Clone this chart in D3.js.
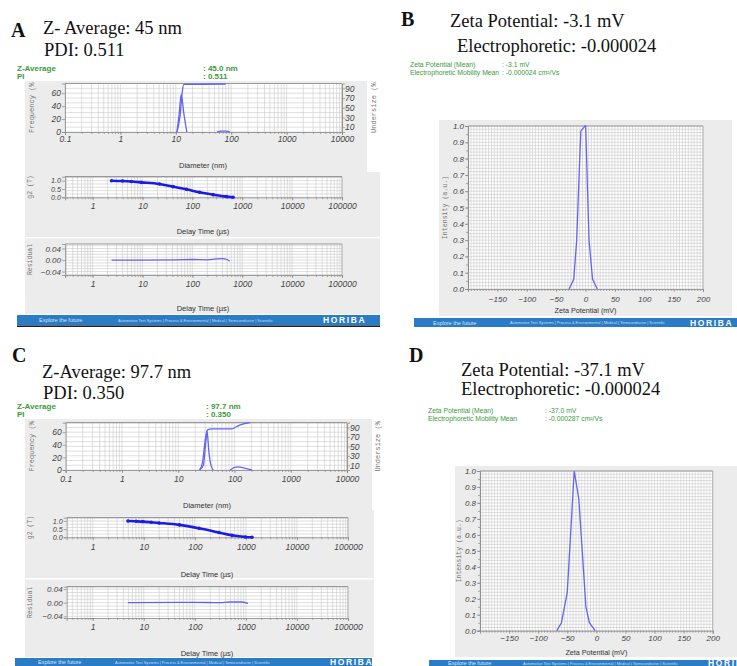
<!DOCTYPE html>
<html>
<head>
<meta charset="utf-8">
<script src="https://cdn.jsdelivr.net/npm/d3@7"></script>
<style>
  body { margin: 0; background: #fff; }
  svg { display: block; }
</style>
</head>
<body>
<svg id="fig" width="737" height="666"></svg>
<script>
// ---------- data ----------

// panel A : size distribution
var sizeFreqA = [10.5, 11.5, 12.5, 14, 15.8];
var freqA     = [0, 28, 58, 28, 0];
var sizeBumpA = [55, 65, 80, 95];
var bumpA     = [0, 1.5, 1.5, 0];
var sizeUnderA = [10.5, 12, 13, 14, 80];
var underA     = [0, 35, 80, 98, 99];
// panel A : correlation function and residual
var tauA = [2.4, 4, 6, 9.5, 22, 41, 76, 140, 260, 480, 655];
var g2A  = [1.0, 0.98, 0.95, 0.9, 0.8, 0.64, 0.48, 0.3, 0.16, 0.04, 0.0];
var tauResA = [2.4, 10, 50, 100, 200, 300, 400, 500, 560];
var resA    = [0, 0, 0.001, 0.002, 0.001, 0.004, 0.005, 0.002, -0.004];

// panel C : size distribution
var sizeFreqC = [24, 27, 30, 32.5, 35, 38, 42];
var freqC     = [0, 12, 45, 62, 30, 8, 0];
var sizeBumpC = [84, 100, 117, 150, 204];
var bumpC     = [0, 4, 5, 3, 0];
var sizeUnderC = [24, 28, 31, 33, 40, 90, 110, 140, 190];
var underC     = [0, 10, 60, 85, 87, 87, 92, 97, 100];
// panel C : correlation function and residual
var tauC = [4.9, 7.1, 9.6, 14, 20, 50, 121, 297, 536, 980, 1320];
var g2C  = [1.0, 0.98, 0.96, 0.92, 0.88, 0.76, 0.55, 0.29, 0.12, 0.02, 0.0];
var tauResC = [4.9, 50, 100, 300, 500, 800, 1100];
var resC    = [0, 0.001, 0.001, 0, 0.002, 0.002, -0.002];

// panel B / D : zeta potential distributions
var zetaB = [-28, -20, -15, -8, -3, -1, 0.3, 6, 12, 20];
var intB  = [0, 0.06, 0.3, 0.97, 0.99, 1.0, 1.0, 0.3, 0.06, 0];
var zetaD = [-68, -60, -50, -38, -30, -18, -12, -2];
var intD  = [0, 0.05, 0.24, 1.0, 0.82, 0.15, 0.05, 0];

// tick labels
var sizeTicks  = [0.1, 1, 10, 100, 1000, 10000];
var delayTicks = [1, 10, 100, 1000, 10000, 100000];
var freqTicks  = [0, 20, 40, 60];
var underTicks = [10, 30, 50, 70, 90];
var g2Ticks    = [0, 0.5, 1];
var resTicks   = [-0.04, 0, 0.04];
var zetaTicks  = [-150, -100, -50, 0, 50, 100, 150, 200];
var intTicks   = [0, 0.1, 0.2, 0.3, 0.4, 0.5, 0.6, 0.7, 0.8, 0.9, 1.0];

// ---------- styles ----------
var serif = '"Liberation Serif", "Times New Roman", serif';
var sans  = '"Liberation Sans", Arial, sans-serif';
var mono  = '"Liberation Mono", "DejaVu Sans Mono", monospace';
var panelBg = '#ececec', gridC = '#c9c9c9', axC = '#8a8a8a';
var curveC = '#6464f2', dotC = '#1c1ce0', green = '#3c9a3c', barC = '#2b7cc6';

var svg = d3.select('#fig');

function label(g, x, y, s, o) {
  o = o || {};
  var t = g.append('text').attr('x', x).attr('y', y).text(s)
    .style('font-family', o.font || sans)
    .style('font-size', (o.size || 8) + 'px')
    .attr('fill', o.fill || '#333');
  if (o.anchor) t.attr('text-anchor', o.anchor);
  if (o.weight) t.style('font-weight', o.weight);
  if (o.italic) t.style('font-style', 'italic');
  if (o.spacing) t.style('letter-spacing', o.spacing + 'px');
  if (o.rotate) t.attr('transform', 'rotate(' + o.rotate + ',' + x + ',' + y + ')');
  return t;
}

function box(g, xs, ys, xGrid, yGrid) {
  var xr = xs.range(), yr = ys.range();
  g.append('rect').attr('x', xr[0]).attr('y', yr[1])
    .attr('width', xr[1] - xr[0]).attr('height', yr[0] - yr[1]).attr('fill', '#fff');
  g.append('g').selectAll('line').data(xGrid).join('line')
    .attr('x1', function(d){ return xs(d); }).attr('x2', function(d){ return xs(d); })
    .attr('y1', yr[1]).attr('y2', yr[0])
    .attr('stroke', gridC).attr('stroke-width', 0.6);
  g.append('g').selectAll('line').data(yGrid).join('line')
    .attr('y1', function(d){ return ys(d); }).attr('y2', function(d){ return ys(d); })
    .attr('x1', xr[0]).attr('x2', xr[1])
    .attr('stroke', gridC).attr('stroke-width', 0.6);
  g.append('line').attr('x1', xr[0]).attr('x2', xr[1]).attr('y1', yr[1]).attr('y2', yr[1])
    .attr('stroke', '#999').attr('stroke-width', 1.2);
  g.append('line').attr('x1', xr[1]).attr('x2', xr[1]).attr('y1', yr[1]).attr('y2', yr[0])
    .attr('stroke', '#aaa').attr('stroke-width', 0.8);
}

function styleAxis(sel, fs) {
  sel.select('.domain').attr('stroke', axC).attr('stroke-width', 0.8);
  sel.selectAll('.tick line').attr('stroke', axC).attr('stroke-width', 0.7);
  sel.selectAll('text').style('font-family', sans).style('font-size', fs + 'px')
    .style('font-style', 'italic').attr('fill', '#444');
}

function bottomAxis(g, xs, y, ticks, labY, fs, fmt, minor) {
  g.append('g').attr('transform', 'translate(0,' + y + ')')
    .call(d3.axisBottom(xs).tickValues(minor).tickSize(2).tickFormat(function(){ return ''; }))
    .call(function(s){ styleAxis(s, fs); s.select('.domain').remove(); });
  g.append('g').attr('transform', 'translate(0,' + y + ')')
    .call(d3.axisBottom(xs).tickValues(ticks).tickSize(3)
      .tickPadding(labY - y - 3 - 0.71 * fs).tickFormat(fmt))
    .call(function(s){ styleAxis(s, fs); });
}

function leftAxis(g, ys, x, ticks, fs, fmt) {
  g.append('g').attr('transform', 'translate(' + x + ',0)')
    .call(d3.axisLeft(ys).tickValues(ticks).tickSize(3).tickPadding(1).tickFormat(fmt))
    .call(function(s){ styleAxis(s, fs); });
}

function rows(xv, yv) { return d3.zip(xv, yv); }

// ---------- DLS panel (A, C) ----------
function dlsPanel(c) {
  var g = svg.append('g');

  // headings
  label(g, c.letterX, c.letterY, c.letter, {font: serif, size: 20, weight: 'bold', fill: '#111'});
  label(g, c.headX, c.head1Y, c.head1, {font: serif, size: 18.5, fill: '#111'});
  label(g, c.headX + 1, c.head2Y, c.head2, {font: serif, size: 18.5, fill: '#111'});
  label(g, 17, c.zY, 'Z-Average', {size: 8, weight: 'bold', fill: green});
  label(g, 17, c.zY + 8, 'PI', {size: 8, weight: 'bold', fill: green});
  label(g, c.valX, c.zY, ':  ' + c.zVal, {size: 8, weight: 'bold', fill: green});
  label(g, c.valX, c.zY + 8, ':  ' + c.pdiVal, {size: 8, weight: 'bold', fill: green});

  // grey panels
  g.append('rect').attr('x', 25).attr('y', c.bgTop).attr('width', c.bgRight1 - 25)
    .attr('height', c.split - c.bgTop).attr('fill', panelBg);
  g.append('rect').attr('x', 25).attr('y', c.split).attr('width', c.bgRight2 - 25)
    .attr('height', c.sep - c.split).attr('fill', panelBg);
  g.append('rect').attr('x', 25).attr('y', c.sep + 1.5).attr('width', c.bgRight2 - 25)
    .attr('height', c.bgBottom - c.sep - 1.5).attr('fill', panelBg);

  // --- frequency / undersize
  var f = c.f;
  var xs = d3.scaleLog().domain([0.1, 10000]).range([f.x0, f.x1]);
  var ysL = d3.scaleLinear().domain([0, 75]).range([f.y1, f.y0]);
  var ysR = d3.scaleLinear().domain([0, 100]).range([f.y1, f.y0]);
  box(g, xs, ysR, xs.ticks(), ysR.ticks(10));
  leftAxis(g, ysL, f.x0, freqTicks, 8.5, d3.format('d'));
  g.append('g').attr('transform', 'translate(' + f.x1 + ',0)')
    .call(d3.axisRight(ysR).tickValues(underTicks).tickSize(3).tickPadding(0))
    .call(function(s){ styleAxis(s, 8.5); });
  bottomAxis(g, xs, f.y1, sizeTicks, f.lab, 8.5, function(d){ return String(d); }, xs.ticks());
  var lineF = d3.line().curve(d3.curveMonotoneX)
    .x(function(d){ return xs(d[0]); }).y(function(d){ return ysL(d[1]); });
  var lineU = d3.line().curve(d3.curveMonotoneX)
    .x(function(d){ return xs(d[0]); }).y(function(d){ return ysR(d[1]); });
  g.append('path').attr('d', lineF(rows(c.sizeF, c.freq))).attr('fill', 'none').attr('stroke', curveC).attr('stroke-width', 1.3);
  g.append('path').attr('d', lineF(rows(c.sizeB, c.bump))).attr('fill', 'none').attr('stroke', curveC).attr('stroke-width', 1.3);
  g.append('path').attr('d', lineU(rows(c.sizeU, c.under))).attr('fill', 'none').attr('stroke', curveC).attr('stroke-width', 1.3);
  label(g, f.titleX, f.title, 'Diameter (nm)', {size: 7.5, anchor: 'middle', fill: '#333'});
  label(g, 34, (f.y0 + f.y1) / 2, 'Frequency (%', {font: mono, size: 7, anchor: 'middle', fill: '#777', rotate: -90});
  label(g, c.rightLabX, (f.y0 + f.y1) / 2, 'Undersize (%', {font: mono, size: 7, anchor: 'middle', fill: '#777', rotate: -90});

  // --- g2
  var q = c.g2;
  var xt = d3.scaleLog().domain([q.dom0, 100000]).range([q.x0, q.x1]);
  var yg = d3.scaleLinear().domain([0, q.top]).range([q.y1, q.y0]);
  box(g, xt, yg, xt.ticks(), yg.ticks(6));
  leftAxis(g, yg, q.x0, g2Ticks, 7.2, d3.format('.1f'));
  bottomAxis(g, xt, q.y1, delayTicks, q.lab, 8.5, function(d){ return String(d); }, xt.ticks());
  var lineG = d3.line().curve(d3.curveMonotoneX)
    .x(function(d){ return xt(d[0]); }).y(function(d){ return yg(d[1]); });
  g.append('path').attr('d', lineG(rows(c.tau, c.g2v))).attr('fill', 'none')
    .attr('stroke', dotC).attr('stroke-width', 2.6);
  g.append('g').selectAll('circle').data(rows(c.tau, c.g2v)).join('circle')
    .attr('cx', function(d){ return xt(d[0]); }).attr('cy', function(d){ return yg(d[1]); })
    .attr('r', 1.8).attr('fill', dotC);
  label(g, f.titleX, q.title, 'Delay Time (\u00b5s)', {size: 7.5, anchor: 'middle', fill: '#333'});
  label(g, 32, (q.y0 + q.y1) / 2, 'g2 (T)', {font: mono, size: 6.5, anchor: 'middle', fill: '#777', rotate: -90});

  // --- residual
  var r = c.r;
  var yr = d3.scaleLinear().domain(r.dom).range([r.y1, r.y0]);
  var xr = xt.copy();
  box(g, xr, yr, xr.ticks(), yr.ticks(10));
  leftAxis(g, yr, q.x0, resTicks, 8, d3.format('.2f'));
  bottomAxis(g, xr, r.y1, delayTicks, r.lab, 8.5, function(d){ return String(d); }, xr.ticks());
  var lineR = d3.line().curve(d3.curveMonotoneX)
    .x(function(d){ return xr(d[0]); }).y(function(d){ return yr(d[1]); });
  g.append('path').attr('d', lineR(rows(c.tauR, c.res))).attr('fill', 'none')
    .attr('stroke', curveC).attr('stroke-width', 1.3);
  label(g, f.titleX, r.title, 'Delay Time (\u00b5s)', {size: 7.5, anchor: 'middle', fill: '#333'});
  label(g, 32, (r.y0 + r.y1) / 2, 'Residual', {font: mono, size: 6.5, anchor: 'middle', fill: '#777', rotate: -90});

  footer(g, c.bar);
}

// ---------- zeta panel (B, D) ----------
function zetaPanel(c) {
  var g = svg.append('g');
  label(g, c.letterX, c.letterY, c.letter, {font: serif, size: 20, weight: 'bold', fill: '#111'});
  label(g, c.head1X, c.head1Y, c.head1, {font: serif, size: 18.5, fill: '#111'});
  label(g, c.head2X, c.head2Y, c.head2, {font: serif, size: 18.5, fill: '#111'});
  label(g, c.gX, c.gY, 'Zeta Potential (Mean)', {size: 6.8, fill: green});
  label(g, c.gX, c.gY + 7.5, 'Electrophoretic Mobility Mean', {size: 6.8, fill: green});
  label(g, c.gValX, c.gY, ':  ' + c.zeta, {size: 6.8, fill: green});
  label(g, c.gValX, c.gY + 7.5, ':  ' + c.mob, {size: 6.8, fill: green});

  g.append('rect').attr('x', c.bg[0]).attr('y', c.bg[1]).attr('width', c.bg[2] - c.bg[0])
    .attr('height', c.bg[3] - c.bg[1]).attr('fill', panelBg);

  var xs = d3.scaleLinear().domain([-200, 200]).range([c.x0, c.x1]);
  var ys = d3.scaleLinear().domain([0, 1]).range([c.y1, c.y0]);
  box(g, xs, ys, xs.ticks(80), ys.ticks(40));
  g.append('g').attr('transform', 'translate(' + c.x0 + ',0)')
    .call(d3.axisLeft(ys).tickValues(ys.ticks(20)).tickSize(2).tickFormat(function(){ return ''; }))
    .call(function(s){ styleAxis(s, 8); });
  leftAxis(g, ys, c.x0, intTicks, 8, d3.format('.1f'));
  bottomAxis(g, xs, c.y1, zetaTicks, c.lab, 8, d3.format('d'), xs.ticks(80));
  var line = d3.line().x(function(d){ return xs(d[0]); }).y(function(d){ return ys(d[1]); });
  g.append('path').attr('d', line(rows(c.zx, c.zy))).attr('fill', 'none')
    .attr('stroke', curveC).attr('stroke-width', 1.3);
  label(g, (c.x0 + c.x1) / 2, c.title, 'Zeta Potential (mV)', {size: 7.2, anchor: 'middle', fill: '#333'});
  label(g, c.yLabX, (c.y0 + c.y1) / 2, 'Intensity (a.u.)', {font: mono, size: 6.6, anchor: 'middle', fill: '#777', rotate: -90});

  footer(g, c.bar);
}

// ---------- HORIBA footer strip ----------
function footer(g, b) {
  g.append('rect').attr('x', b.x0).attr('y', b.y0).attr('width', b.x1 - b.x0)
    .attr('height', b.y1 - b.y0).attr('fill', barC);
  if (b.shadow) {
    g.append('rect').attr('x', b.x0).attr('y', b.y1).attr('width', b.x1 - b.x0)
      .attr('height', 1.5).attr('fill', '#222');
  }
  var mid = (b.y0 + b.y1) / 2;
  label(g, b.x0 + b.e, mid + 2, 'Explore the future', {size: 5.5, fill: '#d6e6f6'});
  label(g, b.x0 + b.m, mid + 1.5, 'Automotive Test Systems  |  Process & Environmental  |  Medical  |  Semiconductor  |  Scientific',
    {size: 3.9, fill: '#c9dcf0'});
  label(g, b.x0 + b.h, mid + 3, 'HORIBA', {size: 8.5, weight: 'bold', fill: '#fff', spacing: 1.6});
}

// ---------- build ----------
dlsPanel({
  letter: 'A', letterX: 11, letterY: 37,
  headX: 43, head1: 'Z- Average: 45 nm', head1Y: 34, head2: 'PDI: 0.511', head2Y: 56,
  zY: 71, valX: 203, zVal: '45.0 nm', pdiVal: '0.511',
  bgTop: 81, split: 172, sep: 237, bgBottom: 314, bgRight1: 367, bgRight2: 380, rightLabX: 376,
  f: {x0: 65, x1: 342, y0: 83.5, y1: 132, lab: 141.5, title: 168, titleX: 203},
  g2: {x0: 65, x1: 342, dom0: 0.28, y0: 176.7, y1: 197.3, top: 1.24, lab: 209, title: 234},
  r: {y0: 244, y1: 275, dom: [-0.052, 0.056], lab: 287, title: 311},
  sizeF: sizeFreqA, freq: freqA, sizeB: sizeBumpA, bump: bumpA, sizeU: sizeUnderA, under: underA,
  tau: tauA, g2v: g2A, tauR: tauResA, res: resA,
  bar: {x0: 17, x1: 380, y0: 315, y1: 325.5, shadow: true, e: 22, m: 101, h: 306}
});

dlsPanel({
  letter: 'C', letterX: 12, letterY: 362,
  headX: 42, head1: 'Z-Average: 97.7 nm', head1Y: 378, head2: 'PDI: 0.350', head2Y: 399,
  zY: 409, valX: 206, zVal: '97.7 nm', pdiVal: '0.350',
  bgTop: 419, split: 510, sep: 578, bgBottom: 657, bgRight1: 372, bgRight2: 374, rightLabX: 380,
  f: {x0: 65.7, x1: 347, y0: 422.7, y1: 470, lab: 481.5, title: 508, titleX: 207},
  g2: {x0: 66.7, x1: 348, dom0: 0.31, y0: 517.7, y1: 537.3, top: 1.2, lab: 550, title: 576.5},
  r: {y0: 586.7, y1: 618, dom: [-0.045, 0.047], lab: 630, title: 655.5},
  sizeF: sizeFreqC, freq: freqC, sizeB: sizeBumpC, bump: bumpC, sizeU: sizeUnderC, under: underC,
  tau: tauC, g2v: g2C, tauR: tauResC, res: resC,
  bar: {x0: 15, x1: 372, y0: 658, y1: 666, shadow: false, e: 23, m: 100, h: 315}
});

zetaPanel({
  letter: 'B', letterX: 401, letterY: 26,
  head1: 'Zeta Potential: -3.1 mV', head1X: 450, head1Y: 27,
  head2: 'Electrophoretic: -0.000024', head2X: 457, head2Y: 52,
  gX: 410, gY: 67, gValX: 502, zeta: '-3.1 mV', mob: '-0.000024 cm\u00b2/Vs',
  bg: [439, 120, 732, 316],
  x0: 468, x1: 703, y0: 126, y1: 289, lab: 301.5, title: 313, yLabX: 447,
  zx: zetaB, zy: intB,
  bar: {x0: 414, x1: 737, y0: 318, y1: 327, shadow: false, e: 19, m: 96, h: 276}
});

zetaPanel({
  letter: 'D', letterX: 409, letterY: 362,
  head1: 'Zeta Potential: -37.1 mV', head1X: 461, head1Y: 376,
  head2: 'Electrophoretic: -0.000024', head2X: 461, head2Y: 395,
  gX: 428, gY: 413, gValX: 545, zeta: '-37.0 mV', mob: '-0.000287 cm\u00b2/Vs',
  bg: [455, 466, 737, 657],
  x0: 480, x1: 712.7, y0: 471, y1: 630.7, lab: 641.5, title: 655, yLabX: 461,
  zx: zetaD, zy: intD,
  bar: {x0: 429, x1: 737, y0: 660, y1: 666, shadow: false, e: 19, m: 94, h: 279}
});
</script>
</body>
</html>
